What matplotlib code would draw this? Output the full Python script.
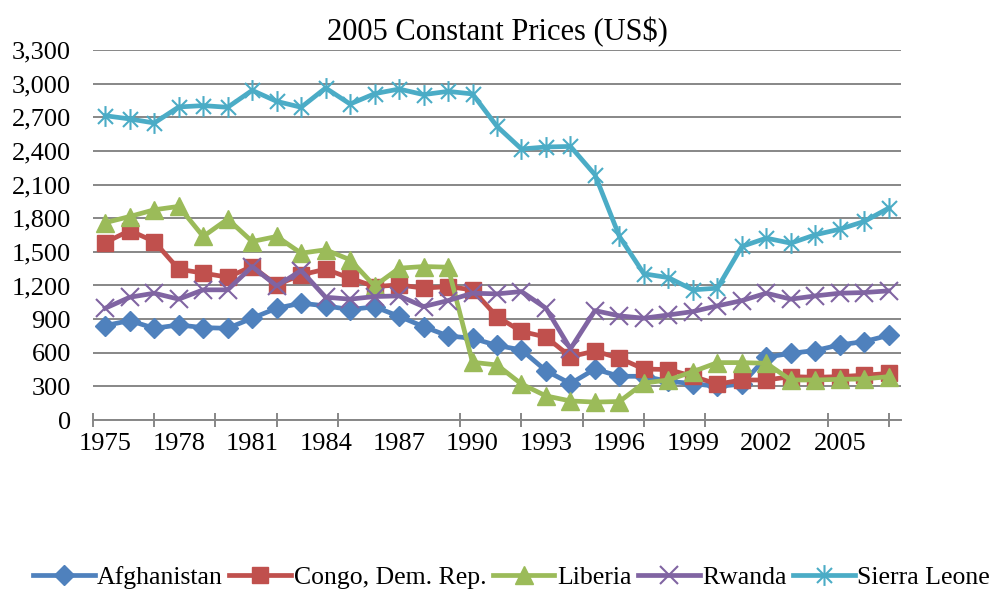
import matplotlib.pyplot as plt
from matplotlib.path import Path
from matplotlib.ticker import FuncFormatter, FixedLocator

plt.rcParams['font.family'] = ['Liberation Serif', 'DejaVu Serif']

years = list(range(1975, 2008))

afghanistan = [842, 887, 818, 848, 824, 818, 908, 997, 1042, 1018, 985, 1010,
               925, 833, 750, 729, 665, 625, 440, 325, 455, 390, 390, 345,
               325, 300, 320, 560, 595, 620, 670, 700, 755]
congo = [1583, 1690, 1592, 1345, 1310, 1274, 1369, 1205, 1295, 1345, 1265, 1190,
         1205, 1176, 1190, 1161, 922, 790, 740, 565, 615, 551, 455, 450,
         390, 320, 357, 357, 387, 381, 387, 400, 415]
liberia = [1760, 1815, 1875, 1905, 1637, 1792, 1592, 1637, 1488, 1518, 1429, 1195,
           1354, 1369, 1363, 515, 491, 321, 215, 170, 160, 165, 330, 357,
           431, 512, 512, 506, 357, 357, 363, 366, 387]
rwanda = [997, 1095, 1131, 1078, 1161, 1161, 1369, 1196, 1333, 1095, 1078, 1101,
          1107, 1012, 1065, 1131, 1125, 1146, 997, 635, 976, 929, 908, 937,
          967, 1018, 1065, 1131, 1078, 1107, 1131, 1137, 1152]
sierra_leone = [2714, 2685, 2649, 2792, 2804, 2789, 2940, 2842, 2789, 2961, 2818, 2910,
                2952, 2902, 2931, 2908, 2619, 2417, 2435, 2440, 2188, 1637, 1304, 1270,
                1161, 1176, 1548, 1622, 1577, 1652, 1702, 1771, 1890]

labels = ['Afghanistan', 'Congo, Dem. Rep.', 'Liberia', 'Rwanda', 'Sierra Leone']
colors = ['#4F81BD', '#C0504D', '#9BBB59', '#8064A2', '#4BACC6']
yticks = list(range(0, 3301, 300))
xlabels = list(range(1975, 2006, 3))

# excel style asterisk: x with a vertical bar
star = Path([(0, -1), (0, 1), (-0.72, -0.72), (0.72, 0.72), (-0.72, 0.72), (0.72, -0.72)],
            [Path.MOVETO, Path.LINETO, Path.MOVETO, Path.LINETO, Path.MOVETO, Path.LINETO])

fig = plt.figure(figsize=(9.97, 5.93), dpi=100)
ax = fig.add_axes([0.0933, 0.2917, 0.8104, 0.624])

ax.plot(years, afghanistan, color=colors[0], lw=3.4, marker='D', ms=10,
        mec=colors[0], label=labels[0])
ax.plot(years, congo, color=colors[1], lw=3.4, marker='s', ms=11.5,
        mec=colors[1], label=labels[1])
ax.plot(years, liberia, color=colors[2], lw=3.4, marker='^', ms=12.5,
        mec=colors[2], label=labels[2])
ax.plot(years, rwanda, color=colors[3], lw=3.4, marker='x', ms=13, mew=1.5,
        mec=colors[3], label=labels[3])
ax.plot(years, sierra_leone, color=colors[4], lw=3.4, marker=star, ms=15, mew=1.5,
        mec=colors[4], mfc='none', label=labels[4])

ax.set_xlim(1974.5, 2007.5)
ax.set_ylim(0, 3300)
ax.set_yticks(yticks)
ax.yaxis.set_major_formatter(FuncFormatter(lambda v, p: f'{int(v):,}'))
ax.set_xticks(xlabels)
ax.xaxis.set_minor_locator(FixedLocator([1974.5 + 2.5 * k for k in range(14)]))

ax.grid(axis='y', color='#878787', lw=1.4)
ax.set_axisbelow(True)
for s in ['top', 'right', 'left']:
    ax.spines[s].set_visible(False)
ax.spines['bottom'].set_color('#878787')
ax.spines['bottom'].set_linewidth(1.4)

ax.tick_params(axis='y', length=0, pad=16, labelsize=19)
ax.tick_params(axis='x', which='major', length=0, pad=9, labelsize=19)
ax.tick_params(axis='x', which='minor', direction='inout', length=10,
               width=1.4, color='#878787')

ax.set_title('2005 Constant Prices (US$)', fontsize=22, pad=7)

fig.legend(loc='center', bbox_to_anchor=(0.513, 0.026), ncol=5, frameon=False,
           fontsize=18.5, handlelength=2.4, handletextpad=0.1, columnspacing=0.25)

fig.savefig('out.png', dpi=100)
